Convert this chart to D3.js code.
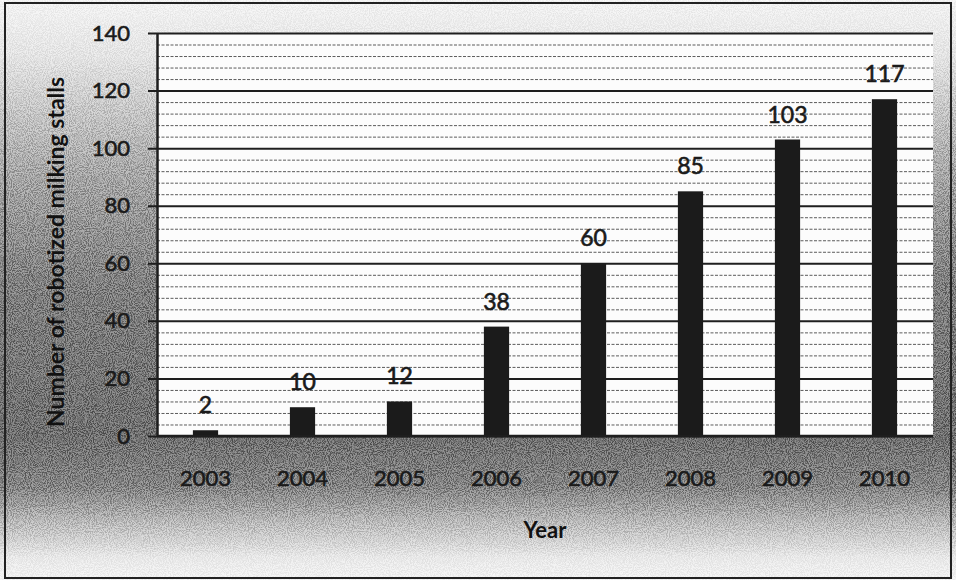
<!DOCTYPE html>
<html>
<head>
<meta charset="utf-8">
<script src="https://cdn.jsdelivr.net/npm/d3@7"></script>
<style>
  body { margin: 0; background: #fff; }
  svg { display: block; font-family: Lato, "Open Sans", sans-serif; }
  .ink { stroke: #1a1a1a; stroke-width: 0.6px; }
</style>
</head>
<body>
<div id="chart-area"></div>
<script>

var years = ["2003", "2004", "2005", "2006", "2007", "2008", "2009", "2010"];
var stalls = [2, 10, 12, 38, 60, 85, 103, 117];
var yTicks = [0, 20, 40, 60, 80, 100, 120, 140];

var W = 956, H = 580;
var margin = { top: 33, right: 23, bottom: 144, left: 157 },
    width = W - margin.left - margin.right,
    height = H - margin.top - margin.bottom;

var root = d3.select("#chart-area")
    .append("svg")
    .attr("width", W)
    .attr("height", H);

var defs = root.append("defs");

// scanned-paper grey shading behind the plot
var shade = defs.append("linearGradient")
    .attr("id", "shade")
    .attr("x1", "0").attr("y1", "0")
    .attr("x2", "0").attr("y2", "1");
[[0, 0.05], [0.1, 0.12], [0.3, 0.42], [0.5, 0.66], [0.75, 0.76], [0.84, 0.62], [0.9, 0.32], [0.96, 0.1], [1, 0.05]]
    .forEach(function(s) {
        shade.append("stop")
            .attr("offset", s[0])
            .attr("stop-color", "#333")
            .attr("stop-opacity", s[1]);
    });

var grain = defs.append("filter")
    .attr("id", "grain")
    .attr("x", 0).attr("y", 0).attr("width", 1).attr("height", 1);
grain.append("feTurbulence")
    .attr("type", "fractalNoise")
    .attr("baseFrequency", 0.95)
    .attr("numOctaves", 2)
    .attr("seed", 3)
    .attr("result", "noise");
grain.append("feColorMatrix")
    .attr("in", "noise")
    .attr("type", "matrix")
    .attr("values", "0 0 0 0 0  0 0 0 0 0  0 0 0 0 0  4 0 0 0 -1.6")
    .attr("result", "mask");
grain.append("feComposite")
    .attr("in", "SourceGraphic")
    .attr("in2", "mask")
    .attr("operator", "in");

root.append("rect")
    .attr("width", W).attr("height", H)
    .attr("fill", "#fff");

root.append("rect")
    .attr("width", W).attr("height", H)
    .attr("fill", "url(#shade)")
    .attr("opacity", 0.75);

root.append("rect")
    .attr("width", W).attr("height", H)
    .attr("fill", "url(#shade)")
    .attr("filter", "url(#grain)");

var svg = root.append("g")
    .attr("transform", "translate(" + margin.left + "," + margin.top + ")");

var x = d3.scaleBand()
    .domain(years)
    .range([0, width])
    .paddingInner(0.74)
    .paddingOuter(0.37);

var y = d3.scaleLinear()
    .domain([0, 140])
    .range([height, 0]);

svg.append("rect")
    .attr("width", width)
    .attr("height", height)
    .attr("fill", "#fcfcfc");

// minor gridlines every 4
svg.append("g")
    .attr("class", "grid minor")
    .call(d3.axisLeft(y)
        .tickValues(d3.range(4, 140, 4).filter(function(v) { return v % 20 !== 0; }))
        .tickSize(-width)
        .tickFormat(""))
    .call(function(g) { g.select(".domain").remove(); })
    .selectAll("line")
    .attr("stroke", "#333")
    .attr("stroke-width", 1)
    .attr("stroke-dasharray", "3,1.5")
    .attr("opacity", 0.8);

// major gridlines every 20, sticking out as ticks
svg.append("g")
    .attr("class", "grid major")
    .attr("transform", "translate(-9,0)")
    .call(d3.axisLeft(y)
        .tickValues(yTicks)
        .tickSize(-(width + 9))
        .tickFormat(""))
    .call(function(g) { g.select(".domain").remove(); })
    .selectAll("line")
    .attr("stroke", "#1e1e1e")
    .attr("stroke-width", 2);

svg.selectAll(".bar")
    .data(stalls)
    .enter().append("rect")
    .attr("class", "bar")
    .attr("x", function(d, i) { return x(years[i]); })
    .attr("y", function(d) { return y(d); })
    .attr("width", x.bandwidth())
    .attr("height", function(d) { return height - y(d); })
    .attr("fill", "#1b1b1b");

svg.selectAll(".val")
    .data(stalls)
    .enter().append("text")
    .attr("class", "val ink")
    .attr("x", function(d, i) { return x(years[i]) + x.bandwidth() / 2; })
    .attr("y", function(d) { return y(d) - 17; })
    .attr("text-anchor", "middle")
    .attr("fill", "#1a1a1a")
    .style("font-size", "23px")
    .text(function(d) { return d; });

// y axis
var yAxis = svg.append("g")
    .call(d3.axisLeft(y)
        .tickValues(yTicks)
        .tickSize(9)
        .tickSizeOuter(0)
        .tickPadding(18));
yAxis.select(".domain")
    .attr("stroke", "#1e1e1e")
    .attr("stroke-width", 2.5);
yAxis.selectAll(".tick line").remove();
yAxis.selectAll("text")
    .attr("class", "ink")
    .attr("fill", "#1a1a1a")
    .style("font-size", "22px")
    .style("font-family", "Lato, sans-serif");

// x axis
var xAxis = svg.append("g")
    .attr("transform", "translate(0," + height + ")")
    .call(d3.axisBottom(x).tickSize(0).tickPadding(34));
xAxis.select(".domain").remove();
xAxis.selectAll("text")
    .attr("class", "ink")
    .attr("fill", "#1a1a1a")
    .style("font-size", "22px")
    .style("font-family", "Lato, sans-serif");

svg.append("line")
    .attr("x1", 0).attr("x2", width)
    .attr("y1", y(0)).attr("y2", y(0))
    .attr("stroke", "#1e1e1e")
    .attr("stroke-width", 2.5);

svg.append("text")
    .attr("x", 388)
    .attr("y", 505)
    .attr("text-anchor", "middle")
    .attr("fill", "#111")
    .style("font-size", "22px")
    .style("font-weight", "bold")
    .text("Year");

svg.append("text")
    .attr("transform", "rotate(-90)")
    .attr("x", -(252 - margin.top))
    .attr("y", 64 - margin.left)
    .attr("text-anchor", "middle")
    .attr("fill", "#111")
    .style("font-size", "23px")
    .style("font-weight", "bold")
    .text("Number of robotized milking stalls");

// outer frame
root.append("rect")
    .attr("x", 5).attr("y", 3)
    .attr("width", 946).attr("height", 575)
    .attr("fill", "none")
    .attr("stroke", "#222")
    .attr("stroke-width", 2);

</script>
</body>
</html>
